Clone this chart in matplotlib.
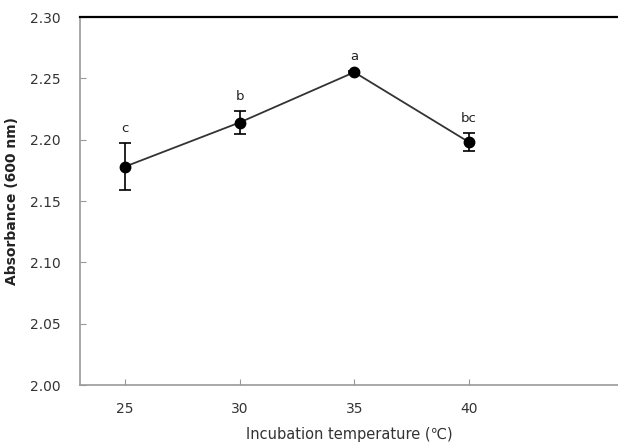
import matplotlib.pyplot as plt

# data
temps = [25, 30, 35, 40]
absorb = [2.178, 2.214, 2.255, 2.198]
errs = [0.019, 0.009, 0.001, 0.0075]
letters = ['c', 'b', 'a', 'bc']

fig = plt.figure(figsize=(6.18, 4.43), dpi=100)
ax = fig.add_axes([0.1294, 0.1309, 0.8706, 0.8307])

ax.errorbar(temps, absorb, yerr=errs, color='#333333', lw=1.3,
            marker='o', ms=7.5, mfc='black', mec='black',
            ecolor='black', elinewidth=1.2, capsize=4, capthick=1.2)

for t, v, e, s in zip(temps, absorb, errs, letters):
    ax.annotate(s, (t, v + e), xytext=(0, 6), textcoords='offset points',
                ha='center', va='bottom', fontsize=9.5, color='#222222')

ax.set_xlim(23.04, 46.5)
ax.set_ylim(2.00, 2.30)
ax.set_xticks(temps)
ax.set_yticks([2.00, 2.05, 2.10, 2.15, 2.20, 2.25, 2.30])
ax.set_yticklabels(['%.2f' % v for v in ax.get_yticks()])

ax.tick_params(direction='in', length=4, color='#999999', labelsize=10,
               labelcolor='#333333', pad=14)
ax.tick_params(axis='x', pad=12)

for side in ['left', 'bottom']:
    ax.spines[side].set_color('#999999')
    ax.spines[side].set_linewidth(1.2)
ax.spines['right'].set_visible(False)
ax.spines['top'].set_color('black')
ax.spines['top'].set_linewidth(1.6)

ax.set_xlabel('Incubation temperature (℃)', fontsize=10.5, color='#333333',
              labelpad=8)
ax.set_ylabel('Absorbance (600 nm)', fontsize=10, fontweight='bold',
              color='#222222', labelpad=8)

fig.savefig('out.png', dpi=100)
